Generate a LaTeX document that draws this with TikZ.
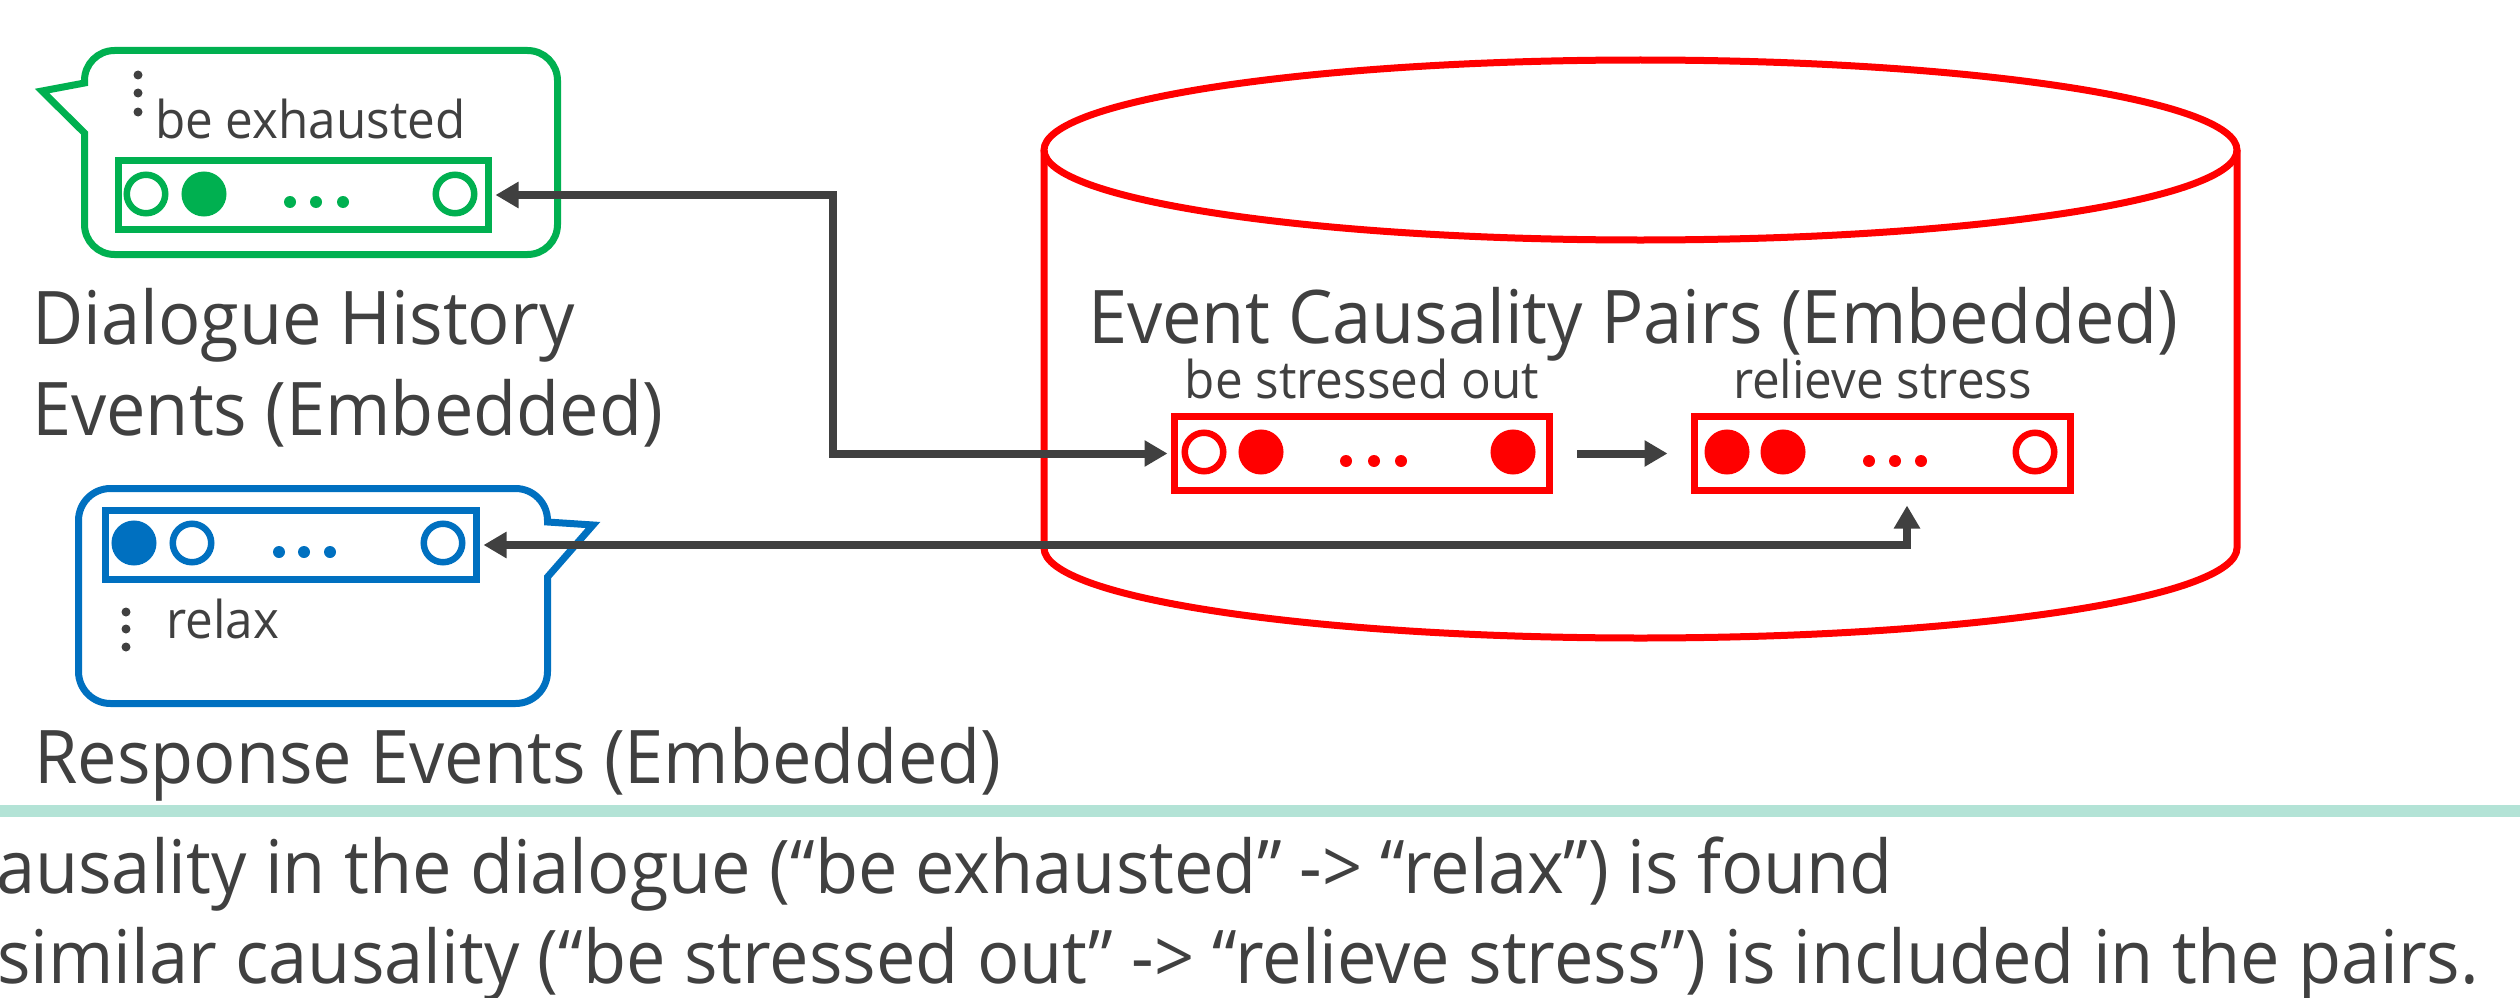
\documentclass[tikz,border=0pt]{standalone}
\usepackage{fontspec}
\setmainfont{Open Sans}[FakeStretch=0.95]
\usetikzlibrary{arrows.meta}

\definecolor{ink}{HTML}{404040}
\definecolor{cgreen}{HTML}{00B050}
\definecolor{cblue}{HTML}{0070C0}
\definecolor{cred}{HTML}{FF0000}
\definecolor{mint}{HTML}{B3E3D6}

\newcommand\bigtxt{\fontsize{74}{90}\selectfont}
\newcommand\smalltxt{\fontsize{52}{62}\selectfont}

\tikzset{
  lbl/.style={inner sep=0pt, anchor=base west, text=ink},
  sublbl/.style={inner sep=0pt, anchor=base, text=ink, font=\smalltxt},
  vbox/.style={draw=#1, line width=7pt, inner sep=0pt},
  bitoff/.style={circle, draw=#1, fill=white, line width=6.5pt, minimum size=38.5pt, inner sep=0pt},
  biton/.style={circle, draw=#1, fill=#1, line width=6.5pt, minimum size=38.5pt, inner sep=0pt},
  bubble/.style={draw=#1, line width=7pt, line join=miter},
  tipshape/.tip={Triangle[length=23pt, width=25pt]},
  conn/.style={draw=ink, line width=8pt, tipshape-tipshape},
  conn1/.style={draw=ink, line width=8pt, -tipshape},
}

\begin{document}
\begin{tikzpicture}[x=1pt, y=-1pt, font=\bigtxt]
\useasboundingbox (0,0) rectangle (2520,998);
\clip (0,0) rectangle (2520,998);

% speech bubble of the dialogue history (tail on the left)
\draw[bubble=cgreen] (84.5,133) -- (42,91) -- (84.5,83) -- (84.5,80.5)
  arc[start angle=180, end angle=270, radius=30] -- (527.5,50.5)
  arc[start angle=270, end angle=360, radius=30] -- (557.5,224.5)
  arc[start angle=0, end angle=90, radius=30] -- (114.5,254.5)
  arc[start angle=90, end angle=180, radius=30] -- cycle;

% speech bubble of the response (tail on the right)
\draw[bubble=cblue] (547.5,577) -- (593,525) -- (547.5,522) -- (547.5,520.5)
  arc[start angle=0, end angle=-90, radius=32] -- (110.5,488.5)
  arc[start angle=-90, end angle=-180, radius=32] -- (78.5,671.5)
  arc[start angle=180, end angle=90, radius=32] -- (515.5,703.5)
  arc[start angle=90, end angle=0, radius=32] -- cycle;

% database cylinder
\draw[cred, line width=7pt] (1640.5,150) ellipse[x radius=596.5, y radius=90];
\draw[cred, line width=7pt] (1044,150) -- (1044,548)
  arc[start angle=180, end angle=0, x radius=596.5, y radius=90] -- (2237,150);

% embedding vectors
\node[vbox=cgreen, minimum width=370pt, minimum height=69pt] (gvec) at (303.5,195) {};
\node[vbox=cblue, minimum width=371pt, minimum height=69pt] (bvec) at (291,545) {};
\node[vbox=cred, minimum width=375pt, minimum height=74pt] (cause) at (1362,453.5) {};
\node[vbox=cred, minimum width=376pt, minimum height=74pt] (effect) at (1882.5,453.5) {};

\node[bitoff=cgreen] (g1) at (146,194) {};
\node[biton=cgreen]  (g2) at (204,194) {};
\node[bitoff=cgreen] (g3) at (455,194) {};
\foreach \x in {290,316,343} \fill[cgreen] (\x,202) circle[radius=6pt];

\node[biton=cblue]  (b1) at (134,543) {};
\node[bitoff=cblue] (b2) at (192,543) {};
\node[bitoff=cblue] (b3) at (443,543) {};
\foreach \x in {279,304,330} \fill[cblue] (\x,552) circle[radius=6pt];

\node[bitoff=cred] (c1) at (1204,452) {};
\node[biton=cred]  (c2) at (1261,452) {};
\node[biton=cred]  (c3) at (1513,452) {};
\foreach \x in {1346,1374,1401} \fill[cred] (\x,461) circle[radius=6pt];

\node[biton=cred]  (e1) at (1727,452) {};
\node[biton=cred]  (e2) at (1783,452) {};
\node[bitoff=cred] (e3) at (2035,452) {};
\foreach \x in {1869,1895,1921} \fill[cred] (\x,461) circle[radius=6pt];

% vertical ellipses inside the bubbles
\foreach \y in {75,93,112} \fill[ink] (138,\y) circle[radius=4.5pt];
\foreach \y in {612,629,647} \fill[ink] (126,\y) circle[radius=4.5pt];

% labels
\node[lbl, font=\smalltxt] (gtxt) at (155,138) {be exhausted};
\node[lbl, font=\smalltxt] (btxt) at (166,638) {relax};
\node[sublbl] (ctxt) at ([yshift=14.5pt]cause.north) {be stressed out};
\node[sublbl] (etxt) at ([yshift=14.5pt]effect.north) {relieve stress};

\node[lbl] (hist1) at (32,344) {Dialogue History};
\node[lbl] (hist2) at (32,435) {Events (Embedded)};
\node[lbl] (resp)  at (34,783) {Response Events (Embedded)};
\node[lbl] (pairs) at (1088,343) {Event Causality Pairs (Embedded)};

% separator and explanation
\fill[mint] (0,805) rectangle (2520,817);
\node[lbl] (note1) at (-4,893) {\llap{c}ausality in the dialogue (“be exhausted” -> “relax”) is found};
\node[lbl] (note2) at (-3,983) {similar causality (“be stressed out” -> “relieve stress”) is included in the pairs.};

% connectors
\coordinate (elbow) at (833,0);
\draw[conn, shorten <=3.5pt, shorten >=3.5pt] (gvec.east) -| (elbow |- cause.west) -- (cause.west);
\coordinate (lift) at ([xshift=24.5pt, yshift=-11.5pt]effect.south);
\draw[conn, shorten <=3.5pt] (bvec.east) -| (lift);
\draw[conn1, shorten <=24pt, shorten >=23.5pt] (cause.east) -- (effect.west);
\end{tikzpicture}
\end{document}
